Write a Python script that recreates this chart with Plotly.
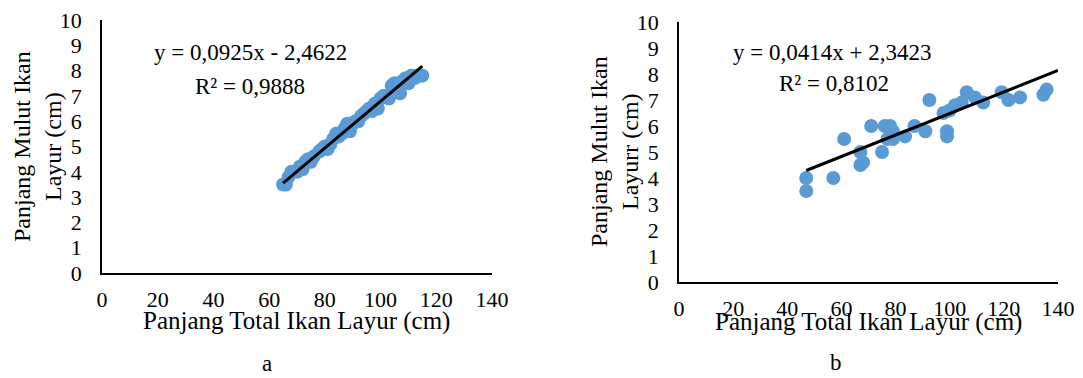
import plotly.graph_objects as go

# Panel a data (Panjang Total vs Panjang Mulut)
a_total = [65, 66, 67, 68, 70, 71, 72, 73, 74, 75, 76, 78, 79, 80, 81, 82, 83, 84, 85, 86,
           87, 88, 89, 90, 91, 92, 93, 94, 95, 96, 97, 98, 99, 100, 101, 102, 103, 104, 105,
           106, 107, 108, 109, 110, 111, 112, 113, 114, 115]
a_mulut = [3.5, 3.5, 3.8, 4.0, 4.0, 4.2, 4.1, 4.4, 4.5, 4.4, 4.6, 4.8, 4.9, 5.0, 4.9, 5.1,
           5.3, 5.5, 5.4, 5.5, 5.7, 5.9, 5.6, 5.9, 6.0, 6.0, 6.2, 6.3, 6.4, 6.5, 6.4, 6.7,
           6.5, 6.9, 7.0, 7.0, 6.9, 7.4, 7.5, 7.3, 7.1, 7.6, 7.7, 7.5, 7.8, 7.7, 7.8, 7.8, 7.8]
a_slope, a_intercept = 0.0925, -2.4622
a_eq = "y = 0,0925x - 2,4622"
a_r2 = "R² = 0,9888"

# Panel b data
b_total = [47, 47, 57, 61, 67, 67, 68, 71, 75, 76, 78, 79, 77, 79, 83.5, 87, 91, 92.5,
           99, 99, 97.7, 100, 102, 104.4, 106.3, 109.3, 112.4, 119.2, 121.7, 126, 134.6, 135.8]
b_mulut = [4.0, 3.5, 4.0, 5.5, 5.0, 4.5, 4.6, 6.0, 5.0, 6.0, 6.0, 5.8, 5.5, 5.5, 5.6, 6.0,
           5.8, 7.0, 5.8, 5.6, 6.5, 6.6, 6.8, 6.9, 7.3, 7.1, 6.9, 7.3, 7.0, 7.1, 7.2, 7.4]
b_slope, b_intercept = 0.0414, 2.3423
b_eq = "y = 0,0414x + 2,3423"
b_r2 = "R² = 0,8102"
b_trend_end = 140

x_ticks = [0, 20, 40, 60, 80, 100, 120, 140]
y_ticks = [0, 1, 2, 3, 4, 5, 6, 7, 8, 9, 10]
x_title = "Panjang Total Ikan Layur (cm)"
a_ytitle = "Panjang Mulut Ikan<br>Layur (cm)"
b_ytitle = "Panjang Mulut Ikan<br>Layurr (cm)"

FONT = "Liberation Serif"
OFF = 8  # page body margin
W, H = 1083 - OFF, 378 - OFF
MARK = "#5B9BD5"

fig = go.Figure()
fig.add_trace(go.Scatter(x=a_total, y=a_mulut, mode="markers",
                         marker=dict(size=14, color=MARK), xaxis="x", yaxis="y"))
ax0, ax1 = min(a_total), max(a_total)
fig.add_trace(go.Scatter(x=[ax0, ax1], y=[a_slope * ax0 + a_intercept, a_slope * ax1 + a_intercept],
                         mode="lines", line=dict(color="black", width=3), xaxis="x", yaxis="y"))
fig.add_trace(go.Scatter(x=b_total, y=b_mulut, mode="markers",
                         marker=dict(size=14, color=MARK), xaxis="x2", yaxis="y2"))
bx0 = min(b_total)
fig.add_trace(go.Scatter(x=[bx0, b_trend_end],
                         y=[b_slope * bx0 + b_intercept, b_slope * b_trend_end + b_intercept],
                         mode="lines", line=dict(color="black", width=3), xaxis="x2", yaxis="y2"))

def px(x):
    return (x - OFF) / W

def py(y):
    return 1 - (y - OFF) / H

common_x = dict(range=[0, 140], tickvals=x_ticks, showgrid=False, zeroline=False,
                showline=True, linecolor="black", linewidth=1.5, ticks="", automargin=False,
                ticklabeloverflow="allow",
                tickfont=dict(family=FONT, size=22, color="black"), ticklabelstandoff=6)
common_y = dict(range=[0, 10], tickvals=y_ticks, showgrid=False, zeroline=False,
                showline=True, linecolor="black", linewidth=1.5, ticks="", automargin=False,
                ticklabeloverflow="allow",
                tickfont=dict(family=FONT, size=22, color="black"), ticklabelstandoff=14)

fig.update_layout(
    width=W, height=H, margin=dict(l=0, r=0, t=0, b=0, autoexpand=False),
    paper_bgcolor="white", plot_bgcolor="white", showlegend=False,
    font=dict(family=FONT, color="black"),
    xaxis=dict(domain=[px(102), px(492)], anchor="y", **common_x),
    yaxis=dict(domain=[py(273), py(20)], anchor="x", **common_y),
    xaxis2=dict(domain=[px(679), px(1058)], anchor="y2", **common_x),
    yaxis2=dict(domain=[py(282), py(22)], anchor="x2", **common_y),
)

def ann(text, x, y, size=24, angle=0):
    fig.add_annotation(text=text, x=px(x), y=py(y), xref="paper", yref="paper",
                       showarrow=False, xanchor="center", yanchor="middle",
                       textangle=angle, font=dict(family=FONT, size=size, color="black"))

ann(a_eq, 250, 53, 23)
ann(a_r2, 250, 86, 23)
ann(b_eq, 832, 52, 23)
ann(b_r2, 834, 83, 23)
ann(x_title, 296, 321, 25)
ann(x_title, 868, 322, 25)
ann(a_ytitle, 38, 147, angle=-90)
ann(b_ytitle, 614, 152, angle=-90)
ann("a", 267, 363, 23)
ann("b", 836, 362, 23)

fig.write_html("out.html")
